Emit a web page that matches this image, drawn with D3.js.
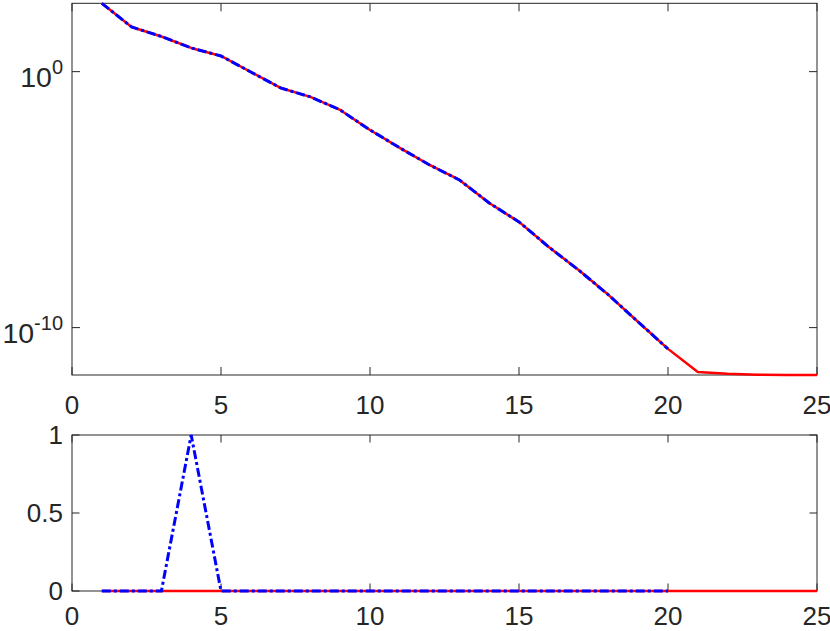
<!DOCTYPE html>
<html><head><meta charset="utf-8">
<script src="https://cdn.jsdelivr.net/npm/d3@7"></script>
<style>body{margin:0;background:#fff}svg{display:block}text{font-family:"Liberation Sans",Arial,Helvetica,sans-serif;fill:#262626}</style>
</head><body><svg id="c" width="830" height="631"></svg>
<script>
// iterations
const xRed = d3.range(1, 26);
const xBlue = d3.range(1, 21);
// top panel (log scale) values
const errRed = [4.68e2,5.57e1,2.37e1,8.43,4.10,9.7e-1,2.31e-1,1.03e-1,3.19e-2,5.28e-3,1.05e-3,2.26e-4,5.89e-5,7.41e-6,1.35e-6,1.41e-7,1.78e-8,1.91e-9,1.66e-10,1.48e-11,1.86e-12,1.58e-12,1.45e-12,1.41e-12,1.41e-12];
const errBlue = [4.68e2,5.57e1,2.37e1,8.43,4.10,9.7e-1,2.31e-1,1.03e-1,3.19e-2,5.28e-3,1.05e-3,2.26e-4,5.89e-5,7.41e-6,1.35e-6,1.41e-7,1.78e-8,1.91e-9,1.66e-10,1.48e-11];
// bottom panel values
const flagRed = [0,0,0,0,0,0,0,0,0,0,0,0,0,0,0,0,0,0,0,0,0,0,0,0,0];
const flagBlue = [0,0,0,1,0,0,0,0,0,0,0,0,0,0,0,0,0,0,0,0];
// ticks
const xTicks = [0,5,10,15,20,25];
const logTicks = [1e0,1e-10];
const logTickExp = ["0","-10"];
const linTicks = [0,0.5,1];
const linTickLabels = ["0","0.5","1"];

const svg = d3.select("#c");
const L = 72, R = 817;
const top1 = 3.3, bot1 = 375, top2 = 435, bot2 = 591;
const axCol = "#262626";

const x = d3.scaleLinear().domain([0,25]).range([L,R]);
const yLog = d3.scaleLog().domain([d3.min(errRed), d3.max(errRed)]).range([bot1, top1]);
const yLin = d3.scaleLinear().domain([0,1]).range([bot2, top2]);

function box(t, b, yt, yfun, tl, lblOff) {
  const g = svg.append("g");
  g.append("rect").attr("x",L).attr("y",t).attr("width",R-L).attr("height",b-t)
    .attr("fill","none").attr("stroke",axCol).attr("stroke-width",1);
  xTicks.forEach(v => {
    const px = x(v);
    g.append("line").attr("x1",px).attr("x2",px).attr("y1",b).attr("y2",b-tl).attr("stroke",axCol);
    g.append("line").attr("x1",px).attr("x2",px).attr("y1",t).attr("y2",t+tl).attr("stroke",axCol);
    g.append("text").attr("x",px).attr("y",b+lblOff).attr("text-anchor","middle").attr("font-size",26).text(v);
  });
  yt.forEach(v => {
    const py = yfun(v);
    g.append("line").attr("x1",L).attr("x2",L+tl).attr("y1",py).attr("y2",py).attr("stroke",axCol);
    g.append("line").attr("x1",R).attr("x2",R-tl).attr("y1",py).attr("y2",py).attr("stroke",axCol);
  });
  return g;
}

const g1 = box(top1, bot1, logTicks, yLog, 8, 39);
logTicks.forEach((v,i) => {
  const t = g1.append("text").attr("x",63).attr("y",yLog(v)+15.5).attr("text-anchor","end");
  t.append("tspan").attr("font-size",28.5).text("10");
  t.append("tspan").attr("font-size",20).attr("dy",-13).text(logTickExp[i]);
});
const g2 = box(top2, bot2, linTicks, yLin, 7.5, 34);
linTicks.forEach((v,i) => {
  g2.append("text").attr("x",63).attr("y",yLin(v)).attr("dy","0.35em").attr("text-anchor","end")
    .attr("font-size",26).text(linTickLabels[i]);
});

const redStyle = p => p.attr("fill","none").attr("stroke","#ff0000").attr("stroke-width",2.5).attr("stroke-linejoin","round");
const blueStyle = p => p.attr("fill","none").attr("stroke","#0000ff").attr("stroke-width",3).attr("stroke-dasharray","9,3,3,3");

const l1r = d3.line().x((d,i)=>x(xRed[i])).y(d=>yLog(d));
const l1b = d3.line().x((d,i)=>x(xBlue[i])).y(d=>yLog(d));
svg.append("path").datum(errRed).attr("d",l1r).call(redStyle);
svg.append("path").datum(errBlue).attr("d",l1b).call(blueStyle);

const l2r = d3.line().x((d,i)=>x(xRed[i])).y(d=>yLin(d));
const l2b = d3.line().x((d,i)=>x(xBlue[i])).y(d=>yLin(d));
svg.append("path").datum(flagRed).attr("d",l2r).call(redStyle);
svg.append("path").datum(flagBlue).attr("d",l2b).call(blueStyle);
</script></body></html>
